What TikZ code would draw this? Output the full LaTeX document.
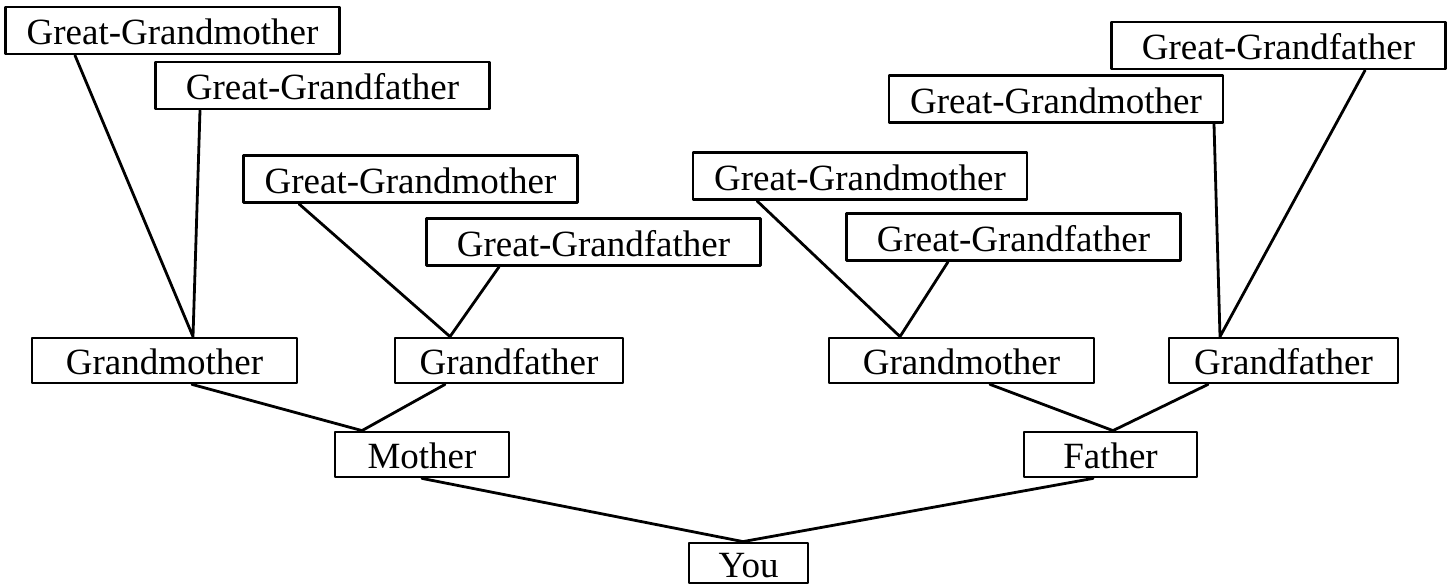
\documentclass[tikz,border=0pt]{standalone}
\usepackage{fontspec}
\setmainfont{Liberation Serif}
\begin{document}
\begin{tikzpicture}[x=1pt, y=-1pt, line join=round, line cap=round,
	box/.style={draw, line width=2.8pt, inner sep=0pt, minimum height=45pt, text height=30pt, text depth=2pt, font=\fontsize{37}{40}\selectfont},
	great/.style={box, minimum width=334pt, minimum height=47pt},
	link/.style={line width=2.8pt}]
	\useasboundingbox (0,0) rectangle (1455,584);
	
	\node[great] (ggmA) at (172.5,30.5) {Great-Grandmother};
	\node[great] (ggfA) at (322.5,85.5) {Great-Grandfather};
	\node[great] (ggmB) at (410.5,179) {Great-Grandmother};
	\node[great] (ggfB) at (593.5,242) {Great-Grandfather};
	\node[great] (ggmC) at (860,176) {Great-Grandmother};
	\node[great] (ggfC) at (1013.5,237) {Great-Grandfather};
	\node[great] (ggmD) at (1056,99) {Great-Grandmother};
	\node[great] (ggfD) at (1278.5,45.5) {Great-Grandfather};
	
	\node[box, minimum width=265pt] (gmA) at (164.5,360.5) {Grandmother};
	\node[box, minimum width=228pt] (gfA) at (509,360.5) {Grandfather};
	\node[box, minimum width=265pt] (gmB) at (961.5,360.5) {Grandmother};
	\node[box, minimum width=229pt] (gfB) at (1283.5,360.5) {Grandfather};
	
	\node[box, minimum width=174pt] (mother) at (422,454.5) {Mother};
	\node[box, minimum width=173pt] (father) at (1110.5,454.5) {Father};
	\node[box, minimum width=119pt, minimum height=40pt] (you) at (748.5,563) {You};
	
	\draw[link]
		([xshift=-97.5pt]ggmA.south) -- ([xshift=28.5pt]gmA.north)
		([xshift=-122.5pt]ggfA.south) -- ([xshift=28.5pt]gmA.north)
		([xshift=-111.5pt]ggmB.south) -- ([xshift=-59pt]gfA.north)
		([xshift=-94.5pt]ggfB.south) -- ([xshift=-59pt]gfA.north)
		([xshift=-103pt]ggmC.south) -- ([xshift=-61.5pt]gmB.north)
		([xshift=-65.5pt]ggfC.south) -- ([xshift=-61.5pt]gmB.north)
		([xshift=158pt]ggmD.south) -- ([xshift=-63.5pt]gfB.north)
		([xshift=86.5pt]ggfD.south) -- ([xshift=-63.5pt]gfB.north)
		([xshift=27.5pt]gmA.south) -- ([xshift=-60pt]mother.north)
		([xshift=-64pt]gfA.south) -- ([xshift=-60pt]mother.north)
		([xshift=28.5pt]gmB.south) -- ([xshift=2.5pt]father.north)
		([xshift=-75.5pt]gfB.south) -- ([xshift=2.5pt]father.north)
		(mother.south) -- ([xshift=-5.5pt]you.north)
		([xshift=-17.5pt]father.south) -- ([xshift=-5.5pt]you.north)
	;
\end{tikzpicture}
\end{document}
